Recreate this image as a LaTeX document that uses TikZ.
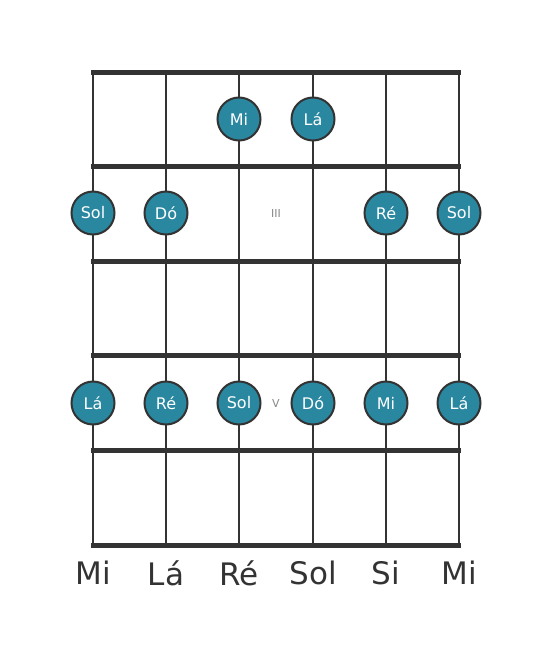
\documentclass[tikz,border=0pt]{standalone}
\usepackage{fontspec}
\setmainfont{DejaVu Sans}
\usepackage{tikz}
\usetikzlibrary{positioning}
\definecolor{dotteal}{RGB}{42,135,160}
\definecolor{boardgray}{RGB}{51,51,51}
\definecolor{markgray}{RGB}{136,136,136}

\tikzset{
    note/.style={circle, fill=dotteal, draw=boardgray, line width=2pt,
        minimum size=43pt, inner sep=0pt, text=white, font=\fontsize{16}{16}\selectfont},
    fretmark/.style={text=markgray, font=\fontsize{11}{11}\selectfont},
    tuning/.style={text=boardgray, font=\fontsize{31}{31}\selectfont}
}

\begin{document}
\begin{tikzpicture}[x=1pt, y=-1pt]
    \useasboundingbox (0,0) rectangle (553,656);
    \fill[white] (0,0) rectangle (553,656);

    % Strings
    \foreach \x in {93,166,239,313,386,459} {
        \draw[boardgray, line width=2.5pt] (\x,72) -- (\x,545);
    }
    % Frets
    \foreach \y in {72,166,261,355,450,545} {
        \draw[boardgray, line width=5pt] (91,\y) -- (461,\y);
    }

    % Fret markers
    \node[fretmark] (m3) at (276,213) {III};
    \node[fretmark] (m5) at (276,403) {V};

    % First row
    \node[note] (a3) at (239,119) {Mi};
    \node[note] (a4) at (313,119) {Lá};

    % Third fret
    \node[note] (b1) at (93,213) {Sol};
    \node[note] (b2) at (166,213) {Dó};
    \node[note] (b5) at (386,213) {Ré};
    \node[note] (b6) at (459,213) {Sol};

    % Fifth fret
    \node[note] (c1) at (93,403) {Lá};
    \node[note] (c2) at (166,403) {Ré};
    \node[note] (c3) at (239,403) {Sol};
    \node[note] (c4) at (313,403) {Dó};
    \node[note] (c5) at (386,403) {Mi};
    \node[note] (c6) at (459,403) {Lá};

    % Open strings
    \node[tuning] (t1) at (93,573) {Mi};
    \node[tuning] (t2) at (166,573) {Lá};
    \node[tuning] (t3) at (239,573) {Ré};
    \node[tuning] (t4) at (313,573) {Sol};
    \node[tuning] (t5) at (386,573) {Si};
    \node[tuning] (t6) at (459,573) {Mi};
\end{tikzpicture}
\end{document}
